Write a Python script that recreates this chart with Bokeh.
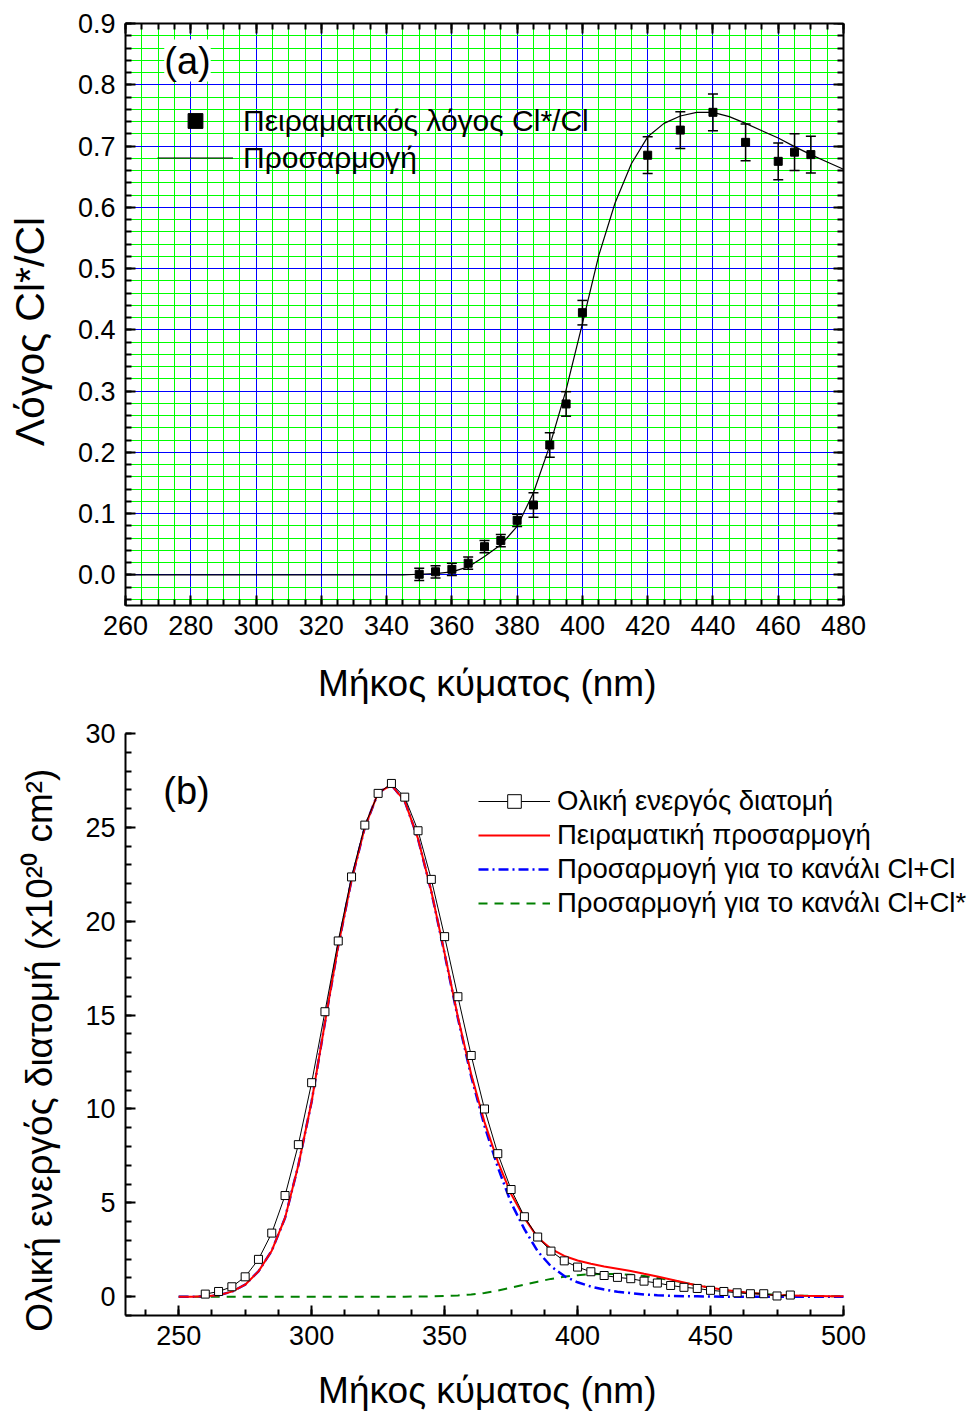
from bokeh.plotting import figure
from bokeh.models import (Range1d, LinearAxis, SingleIntervalTicker, Whisker, ColumnDataSource,
                          Legend, LegendItem, Label, CustomJSTickFormatter, TeeHead, BoxAnnotation)
from bokeh.layouts import column
from bokeh.embed import file_html
from bokeh.resources import INLINE

FONT = "Liberation Sans"
NB = "\u00a0"

# ---------------- data: panel (a) ----------------
ratio_wl = [350, 355, 360, 365, 370, 375, 380, 385, 390, 395, 400, 420, 430, 440, 450, 460, 465, 470]
ratio_val = [0.001, 0.005, 0.009, 0.019, 0.046, 0.056, 0.089, 0.114, 0.212, 0.279, 0.428,
             0.685, 0.726, 0.755, 0.706, 0.675, 0.690, 0.686]
ratio_err = [0.01, 0.01, 0.01, 0.01, 0.01, 0.01, 0.01, 0.02, 0.02, 0.02, 0.02,
             0.03, 0.03, 0.03, 0.03, 0.03, 0.03, 0.03]

fit_wl = [260, 270, 280, 290, 300, 310, 320, 330, 340, 345, 350, 355, 360, 365, 370, 375, 380,
          385, 390, 395, 400, 405, 410, 415, 420, 425, 430, 435, 440, 445, 450, 455, 460,
          465, 470, 475, 480]
fit_val = [0.0, 0.0, 0.0, 0.0, 0.0, 0.0, 0.0, 0.0, 0.0, 0.0, 0.001, 0.002, 0.005, 0.013, 0.030,
           0.049, 0.079, 0.134, 0.211, 0.302, 0.410, 0.521, 0.607, 0.671, 0.715, 0.737, 0.749,
           0.755, 0.755, 0.748, 0.737, 0.725, 0.713, 0.699, 0.686, 0.674, 0.662]

# ---------------- data: panel (b) ----------------
xs_wl = [260, 265, 270, 275, 280, 285, 290, 295, 300, 305, 310, 315, 320, 325, 330, 335, 340,
         345, 350, 355, 360, 365, 370, 375, 380, 385, 390, 395, 400, 405, 410, 415, 420, 425,
         430, 435, 440, 445, 450, 455, 460, 465, 470, 475, 480]
xs_val = [0.14, 0.28, 0.53, 1.06, 1.99, 3.39, 5.39, 8.10, 11.40, 15.18, 18.95, 22.36, 25.12,
          26.81, 27.34, 26.61, 24.82, 22.23, 19.18, 15.98, 12.85, 10.0, 7.62, 5.71, 4.26, 3.18,
          2.43, 1.91, 1.58, 1.33, 1.13, 1.03, 0.96, 0.83, 0.73, 0.60, 0.50, 0.44, 0.34, 0.28,
          0.21, 0.16, 0.16, 0.04, 0.09]

curve_wl = [250, 255, 260, 265, 270, 275, 280, 285, 290, 295, 300, 305, 310, 315, 320, 325,
            330, 335, 340, 345, 350, 355, 360, 365, 370, 375, 380, 385, 390, 395, 400, 405,
            410, 415, 420, 425, 430, 435, 440, 445, 450, 455, 460, 465, 470, 475, 480, 485,
            490, 495, 500]
total_fit = [0.0, 0.0, 0.02, 0.08, 0.27, 0.64, 1.35, 2.45, 4.2, 7.0, 10.4, 14.6, 18.7, 22.2,
             25.0, 26.85, 27.25, 26.4, 24.4, 21.6, 18.3, 14.9, 11.85, 9.3, 7.2, 5.47, 4.2, 3.15,
             2.55, 2.17, 1.93, 1.76, 1.61, 1.49, 1.37, 1.22, 1.08, 0.92, 0.76, 0.60, 0.48, 0.37,
             0.28, 0.20, 0.14, 0.09, 0.07, 0.05, 0.04, 0.03, 0.02]
clcl_fit = [0.0, 0.0, 0.02, 0.08, 0.27, 0.64, 1.35, 2.45, 4.2, 7.0, 10.4, 14.6, 18.7, 22.2,
            25.0, 26.85, 27.25, 26.4, 24.39, 21.58, 18.26, 14.83, 11.73, 9.1, 6.9, 5.0, 3.6,
            2.42, 1.62, 1.1, 0.77, 0.54, 0.38, 0.27, 0.19, 0.12, 0.08, 0.05, 0.03, 0.02, 0.01,
            0.0, 0.0, 0.0, 0.0, 0.0, 0.0, 0.0, 0.0, 0.0, 0.0]
clcls_fit = [0.0, 0.0, 0.0, 0.0, 0.0, 0.0, 0.0, 0.0, 0.0, 0.0, 0.0, 0.0, 0.0, 0.0, 0.0, 0.0,
             0.0, 0.005, 0.01, 0.02, 0.04, 0.07, 0.12, 0.2, 0.33, 0.48, 0.64, 0.8, 0.95, 1.06,
             1.15, 1.2, 1.22, 1.21, 1.17, 1.1, 1.0, 0.88, 0.75, 0.6, 0.48, 0.37, 0.28, 0.2,
             0.14, 0.1, 0.07, 0.05, 0.04, 0.03, 0.02]


def style_axis(ax, fs="27px", title_fs="37px"):
    ax.axis_line_width = 2
    ax.major_tick_line_width = 2
    ax.minor_tick_line_width = 2
    ax.major_tick_in = 10
    ax.major_tick_out = 0
    ax.minor_tick_in = 6
    ax.minor_tick_out = 0
    ax.major_label_text_font = FONT
    ax.major_label_text_font_size = fs
    ax.major_label_text_color = "black"
    ax.axis_label_text_font = FONT
    ax.axis_label_text_font_style = "normal"
    ax.axis_label_text_font_size = title_fs
    ax.axis_label_text_color = "black"


FRAME_W = 972 - 125          # both frames run to the right edge of the page
PX_PER_NM_A = 718 / 220      # panel (a): 260..480 nm over 718 px
PX_PER_NM_B = 718 / 270      # panel (b): 230..500 nm over 718 px
X_TITLE = "Μήκος κύματος (nm)" + NB * 12   # padding keeps it centred under the axis box

# ================= panel (a) =================
p1 = figure(width=972, height=710,
            x_range=Range1d(260, 260 + FRAME_W / PX_PER_NM_A), y_range=Range1d(-0.05, 0.9),
            output_backend="svg", toolbar_location=None,
            min_border_left=125, min_border_right=0, min_border_top=23, min_border_bottom=105)
p1.outline_line_color = None
p1.background_fill_color = "white"

xt1 = SingleIntervalTicker(interval=20, num_minor_ticks=4)
yt1 = SingleIntervalTicker(interval=0.1, num_minor_ticks=5)
p1.xaxis.ticker = xt1
p1.yaxis.ticker = yt1
p1.xaxis.bounds = (260, 480)
p1.xaxis.formatter = CustomJSTickFormatter(code="return tick.toFixed(0)")
p1.yaxis.formatter = CustomJSTickFormatter(code="return tick.toFixed(1)")
p1.xaxis.axis_label = X_TITLE
p1.yaxis.axis_label = "Λόγος Cl*/Cl" + NB * 3
for ax in p1.xaxis:
    style_axis(ax)
for ax in p1.yaxis:
    style_axis(ax, title_fs="41px")
p1.xaxis.major_label_standoff = 10
p1.xaxis.axis_label_standoff = 25
p1.yaxis.major_label_standoff = 10
p1.yaxis.axis_label_standoff = 22

p1.xgrid.bounds = (260, 480)
p1.xgrid.grid_line_color = "#0000FF"
p1.xgrid.minor_grid_line_color = "#00FF00"
p1.ygrid.grid_line_color = "#0000FF"
p1.ygrid.minor_grid_line_color = "#00FF00"
for g in (p1.xgrid, p1.ygrid):
    g.grid_line_width = 1
    g.minor_grid_line_width = 1
    g.grid_line_alpha = 1
    g.minor_grid_line_alpha = 1
# blank out the area right of 480 nm (the graph box ends there)
p1.add_layout(BoxAnnotation(left=480, fill_color="white", fill_alpha=1, line_alpha=0,
                            level="underlay"))

blank = CustomJSTickFormatter(code="return ''")
ax_r = LinearAxis(ticker=yt1, formatter=blank, fixed_location=480)
ax_t = LinearAxis(ticker=xt1, formatter=blank, bounds=(260, 480))
for ax in (ax_r, ax_t):
    style_axis(ax)
p1.add_layout(ax_r, "right")
p1.add_layout(ax_t, "above")

src_r = ColumnDataSource(dict(x=ratio_wl, y=ratio_val,
                              upper=[v + e for v, e in zip(ratio_val, ratio_err)],
                              lower=[v - e for v, e in zip(ratio_val, ratio_err)]))
fit_r = p1.line(fit_wl, fit_val, line_color="black", line_width=1.2)
p1.add_layout(Whisker(source=src_r, base="x", upper="upper", lower="lower",
                      line_color="black", line_width=1.5,
                      upper_head=TeeHead(size=10, line_color="black", line_width=1.5),
                      lower_head=TeeHead(size=10, line_color="black", line_width=1.5)))
pts_r = p1.scatter("x", "y", source=src_r, marker="square", size=8, fill_color="black",
                   line_color="black")

leg1 = Legend(items=[LegendItem(label="Πειραματικός λόγος Cl*/Cl", renderers=[pts_r]),
                     LegendItem(label="Προσαρμογή", renderers=[fit_r])],
              location=(32, 429), padding=0, margin=0, spacing=0,
              glyph_width=76, glyph_height=37, label_height=37, label_standoff=10,
              label_text_font=FONT, label_text_font_size="30px", label_text_color="black",
              background_fill_alpha=0, border_line_alpha=0)
p1.add_layout(leg1, "center")

p1.add_layout(Label(x=62, y=545, x_units="screen", y_units="screen", text="(a)",
                    text_font=FONT, text_font_size="38px", text_align="center",
                    text_color="black", text_baseline="middle", background_fill_color="white"))

# ================= panel (b) =================
p2 = figure(width=972, height=704,
            x_range=Range1d(230, 230 + FRAME_W / PX_PER_NM_B), y_range=Range1d(-1, 30),
            output_backend="svg", toolbar_location=None,
            min_border_left=125, min_border_right=0, min_border_top=23, min_border_bottom=99)
p2.outline_line_color = None
p2.xgrid.visible = False
p2.ygrid.visible = False
p2.xaxis.ticker = SingleIntervalTicker(interval=50, num_minor_ticks=4)
p2.yaxis.ticker = SingleIntervalTicker(interval=5, num_minor_ticks=5)
p2.xaxis.bounds = (230, 500)
p2.xaxis.axis_label = X_TITLE
p2.yaxis.axis_label = "Ολική ενεργός διατομή (x10²⁰ cm²)" + NB * 5
for ax in p2.xaxis:
    style_axis(ax)
for ax in p2.yaxis:
    style_axis(ax, title_fs="37px")
p2.xaxis.major_label_standoff = 10
p2.xaxis.axis_label_standoff = 22
p2.yaxis.major_label_standoff = 10
p2.yaxis.axis_label_standoff = 22

r_green = p2.line(curve_wl, clcls_fit, line_color="#008000", line_width=2, line_dash="9 7")
r_blue = p2.line(curve_wl, clcl_fit, line_color="#0000FF", line_width=2.5, line_dash="10 4 2 4")
r_red = p2.line(curve_wl, total_fit, line_color="#FF0000", line_width=2)
r_black = p2.line(xs_wl, xs_val, line_color="black", line_width=1)
r_sq = p2.scatter(xs_wl, xs_val, marker="square", size=8, fill_color="white",
                  line_color="black", line_width=1)

leg2 = Legend(items=[LegendItem(label="Ολική ενεργός διατομή", renderers=[r_black, r_sq]),
                     LegendItem(label="Πειραματική προσαρμογή", renderers=[r_red]),
                     LegendItem(label="Προσαρμογή για το κανάλι Cl+Cl", renderers=[r_blue]),
                     LegendItem(label="Προσαρμογή για το κανάλι Cl+Cl*", renderers=[r_green])],
              location=(353, 395), padding=0, margin=0, spacing=0,
              glyph_width=72, glyph_height=34, label_height=34, label_standoff=7,
              label_text_font=FONT, label_text_font_size="27.5px", label_text_color="black",
              background_fill_alpha=0, border_line_alpha=0)
p2.add_layout(leg2, "center")

p2.add_layout(Label(x=61, y=525, x_units="screen", y_units="screen", text="(b)",
                    text_font=FONT, text_font_size="38px", text_align="center",
                    text_color="black", text_baseline="middle"))

layout = column(p1, p2, spacing=0)
open("out.html", "w").write(file_html(layout, INLINE))
